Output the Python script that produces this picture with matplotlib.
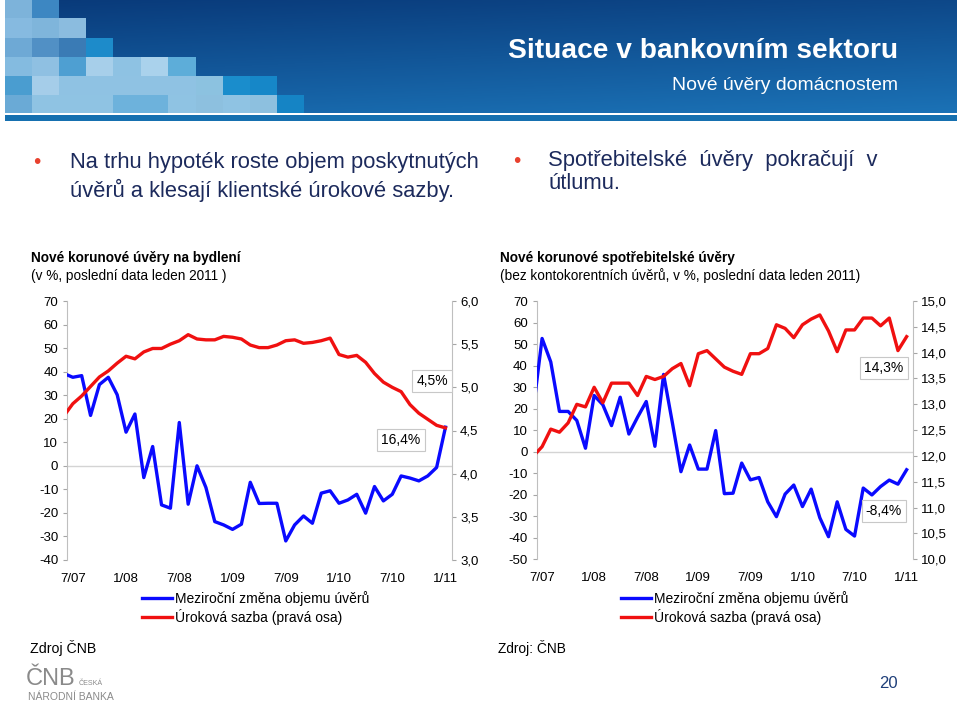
import numpy as np
import matplotlib
matplotlib.use('Agg')
import matplotlib.pyplot as plt
from matplotlib.patches import Rectangle
from matplotlib.colors import LinearSegmentedColormap
from matplotlib.ticker import FuncFormatter

# --- data (months 6/07 .. 1/11, position 0 = 7/07) ---
month_pos = np.arange(-1, 43)
tick_pos = np.arange(0, 43, 6)
tick_labels = ['7/07', '1/08', '7/08', '1/09', '7/09', '1/10', '7/10', '1/11']

# úvěry na bydlení
hyp_objem = [39.2, 37.6, 38.3, 21.4, 34.5, 37.6, 30.2, 14.3, 22.0, -5.0,
             8.2, -16.6, -18.0, 18.4, -16.3, 0.0, -9.2, -23.7, -25.1, -27.0,
             -24.8, -7.0, -16.0, -15.9, -15.9, -31.9, -25.1, -21.3, -24.4, -11.6,
             -10.6, -15.9, -14.5, -12.1, -20.1, -8.8, -14.9, -12.1, -4.3, -5.2,
             -6.4, -4.3, -0.7, 16.4]
hyp_sazba = [4.67, 4.81, 4.90, 5.01, 5.12, 5.19, 5.28, 5.36, 5.33, 5.41,
             5.45, 5.45, 5.50, 5.54, 5.61, 5.56, 5.55, 5.55, 5.59, 5.58,
             5.56, 5.49, 5.46, 5.46, 5.49, 5.54, 5.55, 5.51, 5.52, 5.54,
             5.57, 5.38, 5.35, 5.37, 5.29, 5.16, 5.06, 5.00, 4.95, 4.80,
             4.70, 4.63, 4.56, 4.53]

# spotřebitelské úvěry
spotr_objem = [20.0, 52.6, 41.7, 18.7, 18.7, 14.5, 1.6, 26.1, 21.8, 12.1,
               25.3, 8.2, 16.0, 23.3, 2.5, 35.9, 13.7, -9.3, 3.1, -8.1,
               -8.1, 9.8, -19.5, -19.3, -5.3, -13.1, -12.0, -23.3, -30.2, -19.7,
               -15.5, -25.5, -17.4, -30.7, -39.5, -23.3, -36.1, -39.2, -16.9, -20.1,
               -16.2, -13.2, -15.1, -8.4]
spotr_sazba = [12.00, 12.18, 12.52, 12.46, 12.64, 13.00, 12.95, 13.33, 13.03, 13.41,
               13.41, 13.41, 13.17, 13.54, 13.48, 13.54, 13.69, 13.79, 13.36, 13.98,
               14.04, 13.88, 13.72, 13.64, 13.58, 13.98, 13.98, 14.08, 14.54, 14.47,
               14.29, 14.54, 14.65, 14.73, 14.42, 14.02, 14.44, 14.44, 14.67, 14.67,
               14.52, 14.67, 14.04, 14.31]

legend_labels = ['Meziroční změna objemu úvěrů', 'Úroková sazba (pravá osa)']

W, H = 960, 701
plt.rcParams['font.family'] = ['Liberation Sans', 'DejaVu Sans']
plt.rcParams['axes.unicode_minus'] = False
fig = plt.figure(figsize=(9.6, 7.01), dpi=100)
renderer = fig.canvas.get_renderer()


def rect(x0, y0, x1, y1):
    return [x0 / W, 1 - y1 / H, (x1 - x0) / W, (y1 - y0) / H]


def ftext(x, y, s, **kw):
    return fig.text(x / W, 1 - y / H, s, **kw)


def fit_text(x, y, s, width, size=20, **kw):
    # the slide uses a narrow font; shrink the size so the width matches
    t = ftext(x, y, s, fontsize=size, **kw)
    w = t.get_window_extent(renderer=renderer).width
    t.set_fontsize(size * width / w)
    return t


# --- banner ---
bg = fig.add_axes([0, 0, 1, 1], zorder=-1)
yy, xx = np.mgrid[0:1:100j, 0:1:300j]
cmap = LinearSegmentedColormap.from_list('ban', ['#093a7a', '#1b72b6'])
bg.imshow(0.75 * yy + 0.25 * xx, extent=(5, 957, 113, 0), cmap=cmap, aspect='auto')

col_x = [5, 32, 59, 86, 113, 141, 168, 196, 223, 250, 277, 304]
row_y = [0, 18, 38, 57, 76, 95, 113]
mosaic = [
    ['#7db3da', '#3d87c2'],
    ['#86bae0', '#7fb5db', '#8bbcdf'],
    ['#6ea9d5', '#5190c5', '#3a7bb5', '#1d8bca'],
    ['#84bbe0', '#8fc0e2', '#4e9fd2', '#a7cfea', '#8ec2e3', '#aad2ec', '#5dadd9'],
    ['#4a9dd0', '#a5cde9', '#8fc2e3', '#8fc2e3', '#8fc2e3', '#8fc2e3', '#8fc2e3',
     '#8cc2e0', '#1a8dcc', '#1687c8'],
    ['#6aaad6', '#8fc3e3', '#8fc3e3', '#8fc3e3', '#6db2dc', '#6db2dc', '#8fc3e3',
     '#8dc0df', '#8fc3e3', '#8dc0df', '#1584c5'],
]
for r, row in enumerate(mosaic):
    for c, col in enumerate(row):
        bg.add_patch(Rectangle((col_x[c], row_y[r]), col_x[c + 1] - col_x[c],
                               row_y[r + 1] - row_y[r], color=col, lw=0))
bg.add_patch(Rectangle((5, 114.5), 952, 6, color='#1670b0', lw=0))
bg.set_xlim(0, W)
bg.set_ylim(H, 0)
bg.axis('off')

fit_text(508, 58, 'Situace v bankovním sektoru', 389, color='white',
         fontweight='bold', va='baseline')
fit_text(672, 90, 'Nové úvěry domácnostem', 225, color='white', va='baseline')

# --- bullets ---
navy = '#1c2a5c'
ftext(33, 168, '•', color='#e8412e', fontsize=15, va='baseline')
t1 = fit_text(70, 168, 'Na trhu hypoték roste objem poskytnutých', 408,
              color=navy, va='baseline')
ftext(70, 197, 'úvěrů a klesají klientské úrokové sazby.', color=navy,
      fontsize=t1.get_fontsize(), va='baseline')
ftext(513, 167, '•', color='#e8412e', fontsize=15, va='baseline')
t2 = fit_text(548, 166, 'Spotřebitelské  úvěry  pokračují  v', 330,
              color=navy, va='baseline')
ftext(548, 189, 'útlumu.', color=navy, fontsize=t2.get_fontsize(), va='baseline')

# --- chart titles ---
ftext(31, 262, 'Nové korunové úvěry na bydlení', fontsize=9.8, fontweight='bold')
ftext(31, 280, '(v %, poslední data leden 2011 )', fontsize=9.8)
ftext(500, 262, 'Nové korunové spotřebitelské úvěry', fontsize=9.8, fontweight='bold')
ftext(500, 280, '(bez kontokorentních úvěrů, v %, poslední data leden 2011)', fontsize=9.8)

comma = FuncFormatter(lambda v, p: f'{v:.1f}'.replace('.', ','))


def chart(box, objem, sazba, ylim, y2lim, leg_x):
    ax = fig.add_axes(rect(*box))
    ax.patch.set_visible(False)
    ax.axhline(0, color='#d4d4d4', lw=1, zorder=1)
    ln1, = ax.plot(month_pos, objem, color='#0a0aff', lw=2.4, zorder=3)
    ax.set_xlim(-0.62, 42.7)
    ax.set_ylim(*ylim)
    ax.set_yticks(np.arange(ylim[0], ylim[1] + 1, 10))
    ax.set_xticks(tick_pos, tick_labels)
    ax.tick_params(axis='x', length=0, pad=9.5, labelsize=9.5)
    ax.tick_params(axis='y', length=3, color='#a6a6a6', width=0.8, pad=3.5, labelsize=9.5)
    for s in ['top', 'bottom', 'right']:
        ax.spines[s].set_visible(False)
    ax.spines['left'].set_color('#bfbfbf')

    ax2 = ax.twinx()
    ln2, = ax2.plot(month_pos, sazba, color='#f01010', lw=2.4, zorder=2)
    ax2.set_ylim(*y2lim)
    ax2.set_yticks(np.arange(y2lim[0], y2lim[1] + 0.01, 0.5))
    ax2.yaxis.set_major_formatter(comma)
    ax2.tick_params(axis='y', length=3, color='#a6a6a6', width=0.8, pad=3, labelsize=9.5)
    for s in ['top', 'bottom', 'left']:
        ax2.spines[s].set_visible(False)
    ax2.spines['right'].set_color('#bfbfbf')

    ax2.legend([ln1, ln2], legend_labels, loc='center left',
               bbox_to_anchor=(leg_x / W, 1 - 608 / H), bbox_transform=fig.transFigure,
               frameon=False, fontsize=10, handlelength=2.15, handletextpad=0.2,
               borderpad=0, borderaxespad=0, labelspacing=0.25)
    return ax, ax2


chart((67.3, 301, 451.7, 560), hyp_objem, hyp_sazba, (-40, 70), (3.0, 6.0), 142)
chart((536.7, 301, 912.7, 559.3), spotr_objem, spotr_sazba, (-50, 70), (10.0, 15.0), 621)

box = dict(boxstyle='square,pad=0.3', fc='white', ec='#c8c8c8', lw=0.8)
ftext(432, 381, '4,5%', fontsize=10, ha='center', va='center', bbox=box)
ftext(401, 440, '16,4%', fontsize=10, ha='center', va='center', bbox=box)
ftext(884, 368, '14,3%', fontsize=10, ha='center', va='center', bbox=box)
ftext(884, 511, '-8,4%', fontsize=10, ha='center', va='center', bbox=box)

# --- footer ---
grey = '#8a8a8a'
fit_text(30, 653, 'Zdroj ČNB', 66, size=10, va='baseline')
fit_text(498, 653, 'Zdroj: ČNB', 68, size=10, va='baseline')
ftext(26, 685, 'ČNB', fontsize=17, color=grey, va='baseline')
fit_text(79, 685, 'ČESKÁ', 24, size=6, color=grey, va='baseline')
fit_text(28, 700, 'NÁRODNÍ BANKA', 86, size=6, color=grey, va='baseline')
ftext(898, 688, '20', fontsize=12, color='#1f3f7a', ha='right', va='baseline')

fig.savefig('out.png', dpi=100)
